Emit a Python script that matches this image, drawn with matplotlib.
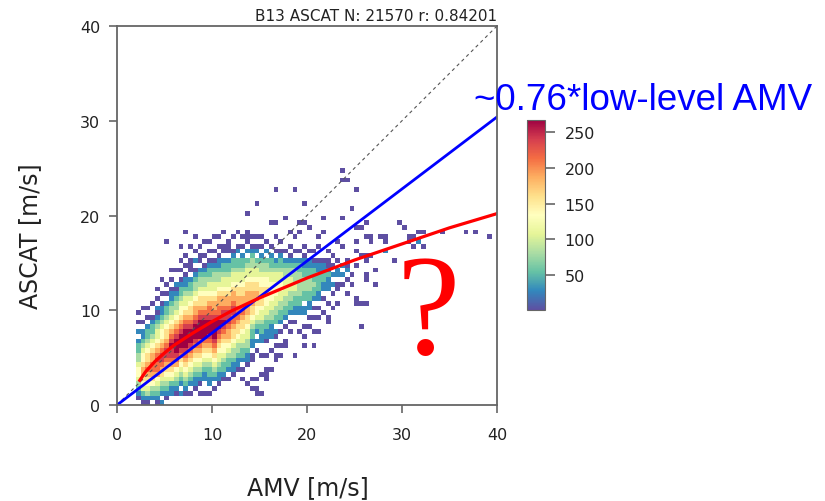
import numpy as np
import matplotlib
matplotlib.use("Agg")
import matplotlib.pyplot as plt

# ---------------- data ----------------
# 2-D histogram, 0.5 m/s bins. Each string is one AMV column (starting x = col_x0),
# read bottom (ASCAT = 0) to top; '.' = empty, '0'..'9','X' = colour level (0 = ~1 count, X = ~267)
col_x0 = 2.0
col_levels = [
    ".0123 45543 3221. 1.0.0",
    "01245 67765 54321 1.0.. 0",
    "01345 67876 65432 21.0. 0",
    ".1235 67887 76543 2210. .0",
    "01234 57889 87654 43210 1.0.0",
    "1.123 46789 98765 54321 10.0. .0",
    ".0123 45678 99876 65432 21.0. 0",
    "..112 45678 99X98 76543 32110 .0.0",
    "..012 34578 9XXX9 87654 33210 1..0",
    "..1.1 23456 89XXX 98765 54322 10.0. 0",
    "..012 34567 89XXX X9876 54432 110.0 .0",
    "..0.1 23456 789XX X9876 65432 21.0. 0..0",
    "...01 12345 6789X XX987 76543 3210. 1.0 ..0",
    "..0.0 12345 6788X XXX98 76654 3321. 0..0",
    "..0.. 11234 5678X XXX98 76654 33210 .0..0",
    "..0.1 12234 56789 XXX98 87654 43221 0.0.0",
    "...0. 12345 6789X XXX98 77654 43321 0.0.. 0",
    "....0 11234 45678 9XX98 87765 43321 10.0. 0",
    "..... 01223 45567 89X99 87765 44322 1.0.. .0",
    "..... 0.122 34567 78999 87765 44322 1.0.0",
    "..... .0112 33456 67889 98776 54432 210.. 0",
    "..... ..011 23345 66788 87766 54432 2.10. .0",
    "..... 0.0.1 22344 56678 87766 54432 21.0. 0",
    "....0 ...01 12334 45667 77776 65443 2.1.0 0",
    "...0. 0...0 0.112 23456 67776 65443 3210. 0",
    "...0. 0.... .0.1. 12345 56776 65443 2.10. 0",
    "..0.. .0... 0..11 22344 56666 55433 21.0. 0",
    "..... 0.0.. 0..01 12234 45566 55433 2.1.0",
    "..... ..0.. .0..1 11233 44555 54432 21.0. ...0",
    "..... ....0 ..0.0 1.223 34455 54432 1.0.. ...0",
    "..... ..... 0.0.. 0.122 33445 54432 210.0",
    "..... ..... ..0.. .0.12 23344 44332 1.0.. ....0",
    "..... ..... ..... 0.0.1 22334 44332 10.0. .0",
    "..... ..... 0.... ..0.1 12234 43332 1.0.. 0",
    "..... ..... ..... 0...1 12233 33322 1.0.. .0",
    "..... ..... ....0 .0..1 1.223 33221 10.0.",
    "..... ..... ..... .0.0. 11223 33221 1.0.. ..0",
    "..... ..... ..... 0..0. 0.122 32221 0.0",
    "..... ..... ..... ...0. 0.112 22211 0..0. 0",
    "..... ..... ..... ....0 ..0.1 12211 0.",
    "..... ..... ..... ..0.. .0..1 11210 0.0",
    "..... ..... ..... ..... 0..0. 1.1.0 .0",
    "..... ..... ..... ..... .0..0 0.11. 0...0",
    "..... ..... ..... ..... ..... 0.1.1 ...0",
    "..... ..... ..... ..... ...0. .0.10 0",
    "..... ..... ..... ..... ..... 0.0..",
    "..... ..... ..... ..... ..0.. ....0 ..0.0",
    "..... ..... ..... ..... ..... ..... .0...",
]

# isolated cells (AMV, ASCAT, level)
sparse_x = [16.7, 18.6, 23.9, 23.9, 24.4, 25.0, 14.7, 19.7, 13.6, 24.5, 23.9, 19.2, 19.7, 21.5,
            21.7, 25.2, 25.7, 13.6, 16.8, 7.2, 5.3, 6.8, 10.2, 10.7, 11.1, 11.6, 11.1, 11.6, 9.8,
            8.7, 7.6, 9.3, 12.5, 13.4, 26.4, 29.7, 30.3, 26.2, 26.7, 27.9, 28.4, 28.4, 30.8, 31.3,
            31.8, 32.3, 34.3, 36.6, 37.8, 39.1, 30.8, 31.3, 31.8, 32.3, 28.4, 26.5, 26.2, 26.7,
            26.2, 29.3, 26.2, 26.2, 27.4, 26.0, 25.5, 25.2, 25.7, 22.4, 21.3, 20.1, 17.5, 19.7,
            20.9, 16.6, 15.9, 15.9, 14.5, 13.6, 14.1, 14.9, 15.2, 9.4, 6.3, 2.9, 2.6, 27.0]
sparse_y = [22.5, 22.5, 24.5, 23.6, 23.6, 22.5, 21.1, 21.1, 20.1, 20.6, 19.5, 19.0, 19.0, 19.6,
            18.0, 18.6, 18.6, 18.0, 17.6, 18.1, 17.2, 16.7, 17.6, 17.6, 16.6, 16.6, 16.1, 16.1, 16.1,
            15.6, 14.8, 14.6, 15.1, 15.7, 19.1, 19.2, 18.7, 17.8, 17.8, 17.8, 17.2, 17.7, 17.8, 17.8,
            18.0, 18.0, 18.3, 18.1, 18.1, 17.6, 17.1, 16.8, 17.1, 16.8, 16.2, 17.1, 15.2, 15.7,
            15.7, 15.1, 13.2, 13.7, 12.65, 10.75, 8.2, 10.8, 10.8, 9.4, 7.8, 8.4, 6.6, 6.25,
            6.3, 5.4, 3.3, 3.8, 2.8, 2.4, 1.6, 1.4, 1.3, 1.0, 1.7, 1.3, 0.3, 14.2]
sparse_lv = [0] * len(sparse_x)
for k in (28, 31, 52, 54, 81, 84):
    sparse_lv[k] = 1

# fitted lines
blue_x = [0, 40]
blue_y = [0, 30.4]
red_x = [2.4, 3, 4, 5, 6, 8, 10, 12, 15, 20, 25, 30, 35, 40]
red_y = [2.6, 3.5, 4.6, 5.5, 6.3, 7.6, 8.8, 9.9, 11.3, 13.4, 15.3, 17.0, 18.7, 20.2]

title_text = "B13 ASCAT N: 21570 r: 0.84201"
ticks = [0, 10, 20, 30, 40]
cbar_ticks = [50, 100, 150, 200, 250]
vmin, vmax = 1, 267

# ---------------- build grid ----------------
binw = 0.5
nx, ny = 80, 50
counts = np.full((ny, nx), np.nan)
level_chars = "0123456789X"
def level_value(c):
    return vmin + level_chars.index(c) / 10.0 * (vmax - vmin)

for k, s in enumerate(col_levels):
    s = s.replace(" ", "")
    i = int(round((col_x0 + binw * k) / binw))
    for j, ch in enumerate(s):
        if ch != ".":
            counts[j, i] = level_value(ch)
for x, y, lv in zip(sparse_x, sparse_y, sparse_lv):
    i, j = int(x // binw), int(y // binw)
    if np.isnan(counts[j, i]):
        counts[j, i] = level_value(str(lv))

xedges = np.arange(nx + 1) * binw
yedges = np.arange(ny + 1) * binw

# ---------------- draw ----------------
fig = plt.figure(figsize=(8.25, 5.02), dpi=100)
ax = fig.add_axes([0.1418, 0.1912, 0.4606, 0.755])
cax = fig.add_axes([0.6388, 0.3805, 0.0218, 0.3785])

mesh = ax.pcolormesh(xedges, yedges, np.ma.masked_invalid(counts), cmap="Spectral_r",
                     vmin=vmin, vmax=vmax)
ax.plot([0, 40], [0, 40], ls=(0, (3, 3)), color="#555555", lw=0.8)
ax.plot(blue_x, blue_y, color="#0000ff", lw=2.0)
ax.plot(red_x, red_y, color="#ff0000", lw=2.3)

ax.set_xlim(0, 40)
ax.set_ylim(0, 40)
ax.set_xticks(ticks)
ax.set_yticks(ticks)
for sp in ax.spines.values():
    sp.set_color("#666666")
    sp.set_linewidth(1.3)
ax.tick_params(direction="out", length=6, width=1.2, color="#666666",
               labelsize=11.5, labelcolor="#222222")
ax.tick_params(axis="x", pad=10)
ax.tick_params(axis="y", pad=6)
ax.set_title(title_text, loc="right", fontsize=11, pad=4, color="#222222")

cb = fig.colorbar(mesh, cax=cax, ticks=cbar_ticks)
cb.outline.set_edgecolor("#666666")
cb.ax.tick_params(length=7, width=1.2, color="#666666", labelsize=11.5,
                  labelcolor="#222222", pad=7)

fig.text(308 / 825, 1 - 488 / 502, "AMV [m/s]", fontsize=17, ha="center", va="center",
         color="#222222")
fig.text(30 / 825, 1 - 236 / 502, "ASCAT [m/s]", fontsize=17, ha="center", va="center",
         rotation=90, color="#222222")
fig.text(474 / 825, 1 - 100 / 502, "~0.76*low-level AMV", fontsize=26.5, color="#0000ff",
         family="Liberation Sans", ha="left", va="center")
fig.text(428 / 825, 1 - 319 / 502, "?", fontsize=103, color="#ff0000",
         family="Liberation Serif", ha="center", va="center")

fig.savefig("out.png", dpi=100)
